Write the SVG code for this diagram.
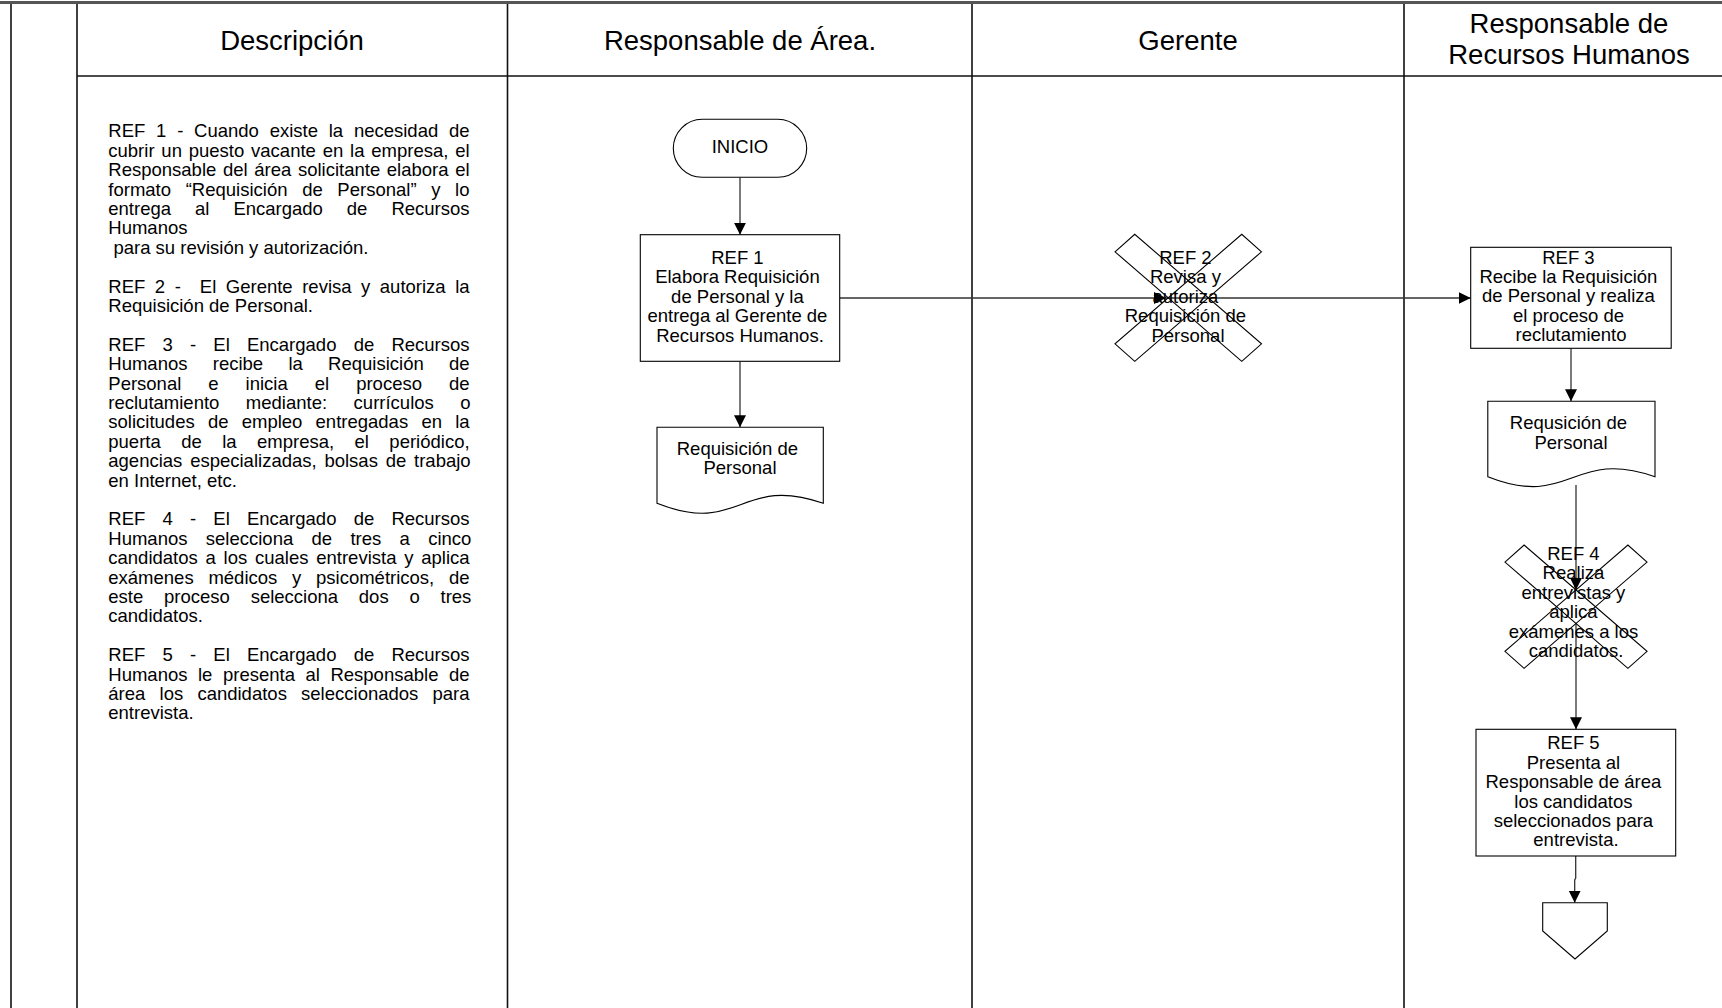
<svg xmlns="http://www.w3.org/2000/svg" width="1722" height="1008" viewBox="0 0 1722 1008">
  <style>
    text { font-family: "Liberation Sans", Arial, sans-serif; fill: #000; font-kerning: none; }
    .hdr { font-size: 27.5px; text-anchor: middle; }
    .desc { font-size: 18.5px; }
    .lbl { font-size: 18.5px; text-anchor: middle; }
    .lane { stroke: #111; stroke-width: 1.6; fill: none; }
    .shape { fill: #fff; stroke: #000; stroke-width: 1.1; }
    .xbar { fill: none; stroke: #000; stroke-width: 1.1; }
    .conn { fill: none; stroke: #333; stroke-width: 1.3; }
  </style>
  <defs>
    <marker id="arrow" markerUnits="userSpaceOnUse" markerWidth="13" markerHeight="13" refX="12" refY="6" orient="auto">
      <path d="M0,0 L12,6 L0,12 Z" fill="#000"/>
    </marker>
    <!-- crossed-bar symbol, centred on the origin -->
    <g id="xmark">
      <polygon class="xbar" points="-73.25,-46 -53.5,-63.5 73.25,46 53.5,63.5" vector-effect="non-scaling-stroke"/>
      <polygon class="xbar" points="73.25,-46 53.5,-63.5 -73.25,46 -53.5,63.5" vector-effect="non-scaling-stroke"/>
    </g>
  </defs>

  <rect width="1722" height="1008" fill="#fff"/>

  <!-- swimlane frame -->
  <g id="lanes">
    <line x1="0" y1="2.5" x2="1722" y2="2.5" stroke="#555" stroke-width="3"/>
    <line class="lane" x1="11" y1="4" x2="11" y2="1008"/>
    <line class="lane" x1="77" y1="4" x2="77" y2="1008"/>
    <line class="lane" x1="507.5" y1="4" x2="507.5" y2="1008"/>
    <line class="lane" x1="972" y1="4" x2="972" y2="1008"/>
    <line class="lane" x1="1404" y1="4" x2="1404" y2="1008"/>
    <line class="lane" x1="77" y1="76" x2="1722" y2="76" stroke-width="1.3"/>
  </g>

  <g id="headers">
    <text class="hdr" x="292" y="49.5">Descripción</text>
    <text class="hdr" x="740" y="49.5">Responsable de Área.</text>
    <text class="hdr" x="1188" y="49.5">Gerente</text>
    <text class="hdr" x="1569" y="33">Responsable de</text>
    <text class="hdr" x="1569" y="63.5">Recursos Humanos</text>
  </g>

  <!-- justified description column -->
  <g id="description">
    <text class="desc">
      <tspan x="108.3" y="137.3" style="word-spacing:5.63px">REF 1 - Cuando existe la necesidad de</tspan>
      <tspan x="108.3" y="156.7" style="word-spacing:1.66px">cubrir un puesto vacante en la empresa, el</tspan>
      <tspan x="108.3" y="176.1" style="word-spacing:1.5px">Responsable del área solicitante elabora el</tspan>
      <tspan x="108.3" y="195.5" style="word-spacing:9.52px">formato “Requisición de Personal” y lo</tspan>
      <tspan x="108.3" y="214.9" style="word-spacing:18.83px">entrega al Encargado de Recursos</tspan>
      <tspan x="108.3" y="234.3">Humanos</tspan>
      <tspan x="113.4" y="253.7">para su revisión y autorización.</tspan>
      <tspan x="108.3" y="292.5" style="word-spacing:4.38px">REF 2 -</tspan>
      <tspan x="199.85" y="292.5" style="word-spacing:4.38px">El Gerente revisa y autoriza la</tspan>
      <tspan x="108.3" y="311.9">Requisición de Personal.</tspan>
      <tspan x="108.3" y="350.7" style="word-spacing:12.05px">REF 3 - El Encargado de Recursos</tspan>
      <tspan x="108.3" y="370.1" style="word-spacing:20.13px">Humanos recibe la Requisición de</tspan>
      <tspan x="108.3" y="389.5" style="word-spacing:21.86px">Personal e inicia el proceso de</tspan>
      <tspan x="108.3" y="408.9" style="word-spacing:21.37px">reclutamiento mediante: currículos o</tspan>
      <tspan x="108.3" y="428.3" style="word-spacing:8.08px">solicitudes de empleo entregadas en la</tspan>
      <tspan x="108.3" y="447.7" style="word-spacing:15.28px">puerta de la empresa, el periódico,</tspan>
      <tspan x="108.3" y="467.1" style="word-spacing:2.65px">agencias especializadas, bolsas de trabajo</tspan>
      <tspan x="108.3" y="486.5">en Internet, etc.</tspan>
      <tspan x="108.3" y="525.3" style="word-spacing:12.05px">REF 4 - El Encargado de Recursos</tspan>
      <tspan x="108.3" y="544.7" style="word-spacing:13.18px">Humanos selecciona de tres a cinco</tspan>
      <tspan x="108.3" y="564.1" style="word-spacing:2.62px">candidatos a los cuales entrevista y aplica</tspan>
      <tspan x="108.3" y="583.5" style="word-spacing:9.6px">exámenes médicos y psicométricos, de</tspan>
      <tspan x="108.3" y="602.9" style="word-spacing:15.64px">este proceso selecciona dos o tres</tspan>
      <tspan x="108.3" y="622.3">candidatos.</tspan>
      <tspan x="108.3" y="661.1" style="word-spacing:12.05px">REF 5 - El Encargado de Recursos</tspan>
      <tspan x="108.3" y="680.5" style="word-spacing:5.4px">Humanos le presenta al Responsable de</tspan>
      <tspan x="108.3" y="699.9" style="word-spacing:9.07px">área los candidatos seleccionados para</tspan>
      <tspan x="108.3" y="719.3">entrevista.</tspan>
    </text>
  </g>

  <!-- connectors -->
  <g id="connectors">
    <path class="conn" d="M740,177.3 V234.7" marker-end="url(#arrow)"/>
    <path class="conn" d="M740,361.3 V427.3" marker-end="url(#arrow)"/>
    <path class="conn" d="M839.7,298 H1166" marker-end="url(#arrow)"/>
    <path class="conn" d="M1166,298 H1470.7" marker-end="url(#arrow)"/>
    <path class="conn" d="M1571,348.3 V401.3" marker-end="url(#arrow)"/>
    <path class="conn" d="M1576,485 V589.9" marker-end="url(#arrow)"/>
    <path class="conn" d="M1576,623.5 V729.3" marker-end="url(#arrow)"/>
    <path class="conn" d="M1575.7,856 V878 L1574.7,880 V902.7" marker-end="url(#arrow)"/>
  </g>

  <g id="inicio">
    <rect class="shape" x="673.3" y="119.3" width="133.4" height="58" rx="29" ry="29"/>
    <text class="lbl" x="740" y="153.3">INICIO</text>
  </g>

  <g id="ref1">
    <rect class="shape" x="640.3" y="234.7" width="199.4" height="126.6"/>
    <text class="lbl">
      <tspan x="740" y="264">REF 1</tspan>
      <tspan x="740" y="283.4">Elabora Requisición</tspan>
      <tspan x="740" y="302.8">de Personal y la</tspan>
      <tspan x="740" y="322.2">entrega al Gerente de</tspan>
      <tspan x="740" y="341.6">Recursos Humanos.</tspan>
    </text>
  </g>

  <g id="doc1">
    <path class="shape" d="M657,427.3 H823.3 V503.3 C740.15,474.3 740.15,536.3 657,503.3 Z"/>
    <text class="lbl">
      <tspan x="740" y="455">Requisición de</tspan>
      <tspan x="740" y="474.4">Personal</tspan>
    </text>
  </g>

  <g id="ref2">
    <use href="#xmark" transform="translate(1188.25,297.8)"/>
    <text class="lbl">
      <tspan x="1188" y="264">REF 2</tspan>
      <tspan x="1188" y="283.4">Revisa y</tspan>
      <tspan x="1188" y="302.8">autoriza</tspan>
      <tspan x="1188" y="322.2">Requisición de</tspan>
      <tspan x="1188" y="341.6">Personal</tspan>
    </text>
  </g>

  <g id="ref3">
    <rect class="shape" x="1470.7" y="247.3" width="200.5" height="101"/>
    <text class="lbl">
      <tspan x="1571" y="263.5">REF 3</tspan>
      <tspan x="1571" y="282.9">Recibe la Requisición</tspan>
      <tspan x="1571" y="302.3">de Personal y realiza</tspan>
      <tspan x="1571" y="321.7">el proceso de</tspan>
      <tspan x="1571" y="341.1">reclutamiento</tspan>
    </text>
  </g>

  <g id="doc2">
    <path class="shape" d="M1487.8,401.3 H1655 V476.7 C1571.4,447.7 1571.4,509.7 1487.8,476.7 Z"/>
    <text class="lbl">
      <tspan x="1571" y="429.3">Requsición de</tspan>
      <tspan x="1571" y="448.7">Personal</tspan>
    </text>
  </g>

  <g id="ref4">
    <use href="#xmark" transform="translate(1576,606.7) scale(0.97)"/>
    <text class="lbl">
      <tspan x="1576" y="560">REF 4</tspan>
      <tspan x="1576" y="579.4">Realiza</tspan>
      <tspan x="1576" y="598.8">entrevistas y</tspan>
      <tspan x="1576" y="618.2">aplica</tspan>
      <tspan x="1576" y="637.6">exámenes a los</tspan>
      <tspan x="1576" y="657">candidatos.</tspan>
    </text>
  </g>

  <g id="ref5">
    <rect class="shape" x="1476" y="729.3" width="199.7" height="126.7"/>
    <text class="lbl">
      <tspan x="1576" y="749.3">REF 5</tspan>
      <tspan x="1576" y="768.7">Presenta al</tspan>
      <tspan x="1576" y="788.1">Responsable de área</tspan>
      <tspan x="1576" y="807.5">los candidatos</tspan>
      <tspan x="1576" y="826.9">seleccionados para</tspan>
      <tspan x="1576" y="846.3">entrevista.</tspan>
    </text>
  </g>

  <g id="offpage">
    <polygon class="shape" points="1542.7,902.7 1607.3,902.7 1607.3,931 1575,959 1542.7,931"/>
  </g>
</svg>
